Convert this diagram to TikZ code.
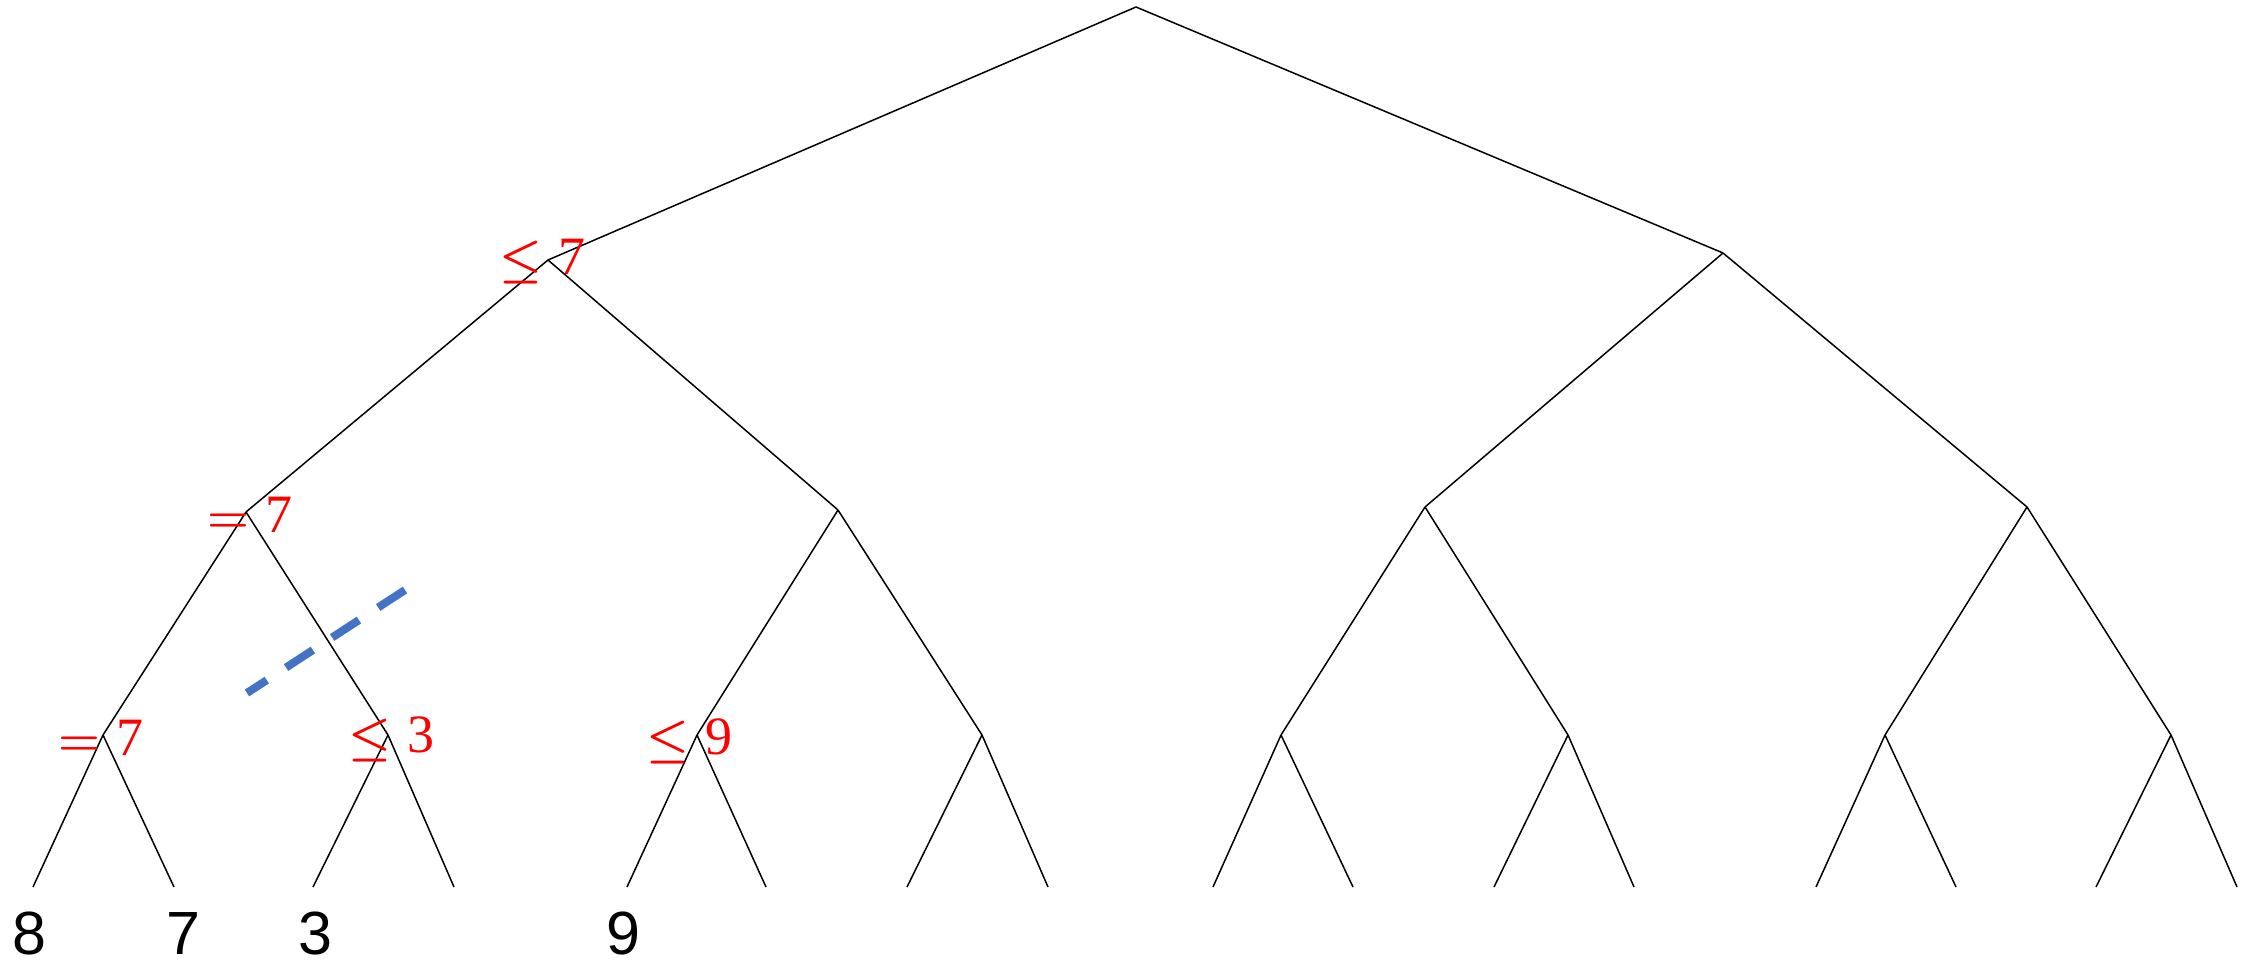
\RequirePackage{fix-cm}
\documentclass[tikz,border=0pt]{standalone}
\usepackage{fontspec}
\setmainfont{Liberation Sans}
\newfontfamily\lblserif{Liberation Serif}
\newcommand\condsym[1]{{\fontsize{48}{48}\selectfont\boldmath$#1$}}
\definecolor{cutblue}{HTML}{4472C4}
\begin{document}
\begin{tikzpicture}[x=1pt,y=-1pt,
  edge/.style={draw=black,line width=1.5pt},
  leaflbl/.style={font=\fontsize{61}{61}\selectfont,text=black,inner sep=0pt,anchor=north},
  cond/.style={font=\lblserif\fontsize{54}{54}\selectfont,text=red,inner sep=0pt,anchor=base west},
  cutline/.style={draw=cutblue,line width=8pt,dash pattern=on 32pt off 23pt}]
\useasboundingbox (0,0) rectangle (2254,965);
% tree points
\coordinate (r) at (1136,7);
\coordinate (a) at (548,260);
\coordinate (b) at (1723,253);
\coordinate (aa) at (246,512);
\coordinate (ab) at (838,510);
\coordinate (ba) at (1425,507);
\coordinate (bb) at (2027,507);
\coordinate (aaa) at (103,735);
\coordinate (aab) at (388,735);
\coordinate (aba) at (697,735);
\coordinate (abb) at (982,735);
\coordinate (baa) at (1281,735);
\coordinate (bab) at (1568,735);
\coordinate (bba) at (1885,735);
\coordinate (bbb) at (2171,735);
\foreach \n/\x in {1/33,2/174,3/313,4/454,5/627,6/766,7/907,8/1048,9/1213,10/1353,11/1494,12/1634,13/1816,14/1956,15/2096,16/2237}
  \coordinate (l\n) at (\x,887);
% edges
\draw[edge] (r)--(a) (r)--(b);
\draw[edge] (a)--(aa) (a)--(ab) (b)--(ba) (b)--(bb);
\draw[edge] (aa)--(aaa) (aa)--(aab) (ab)--(aba) (ab)--(abb)
            (ba)--(baa) (ba)--(bab) (bb)--(bba) (bb)--(bbb);
\draw[edge] (aaa)--(l1) (aaa)--(l2) (aab)--(l3) (aab)--(l4)
            (aba)--(l5) (aba)--(l6) (abb)--(l7) (abb)--(l8)
            (baa)--(l9) (baa)--(l10) (bab)--(l11) (bab)--(l12)
            (bba)--(l13) (bba)--(l14) (bbb)--(l15) (bbb)--(l16);
% leaf labels
\node[leaflbl] (t1) at ([xshift=-4pt,yshift=-25pt]l1) {8};
\node[leaflbl] (t2) at ([xshift=9pt,yshift=-25pt]l2) {7};
\node[leaflbl] (t3) at ([xshift=2pt,yshift=-25pt]l3) {3};
\node[leaflbl] (t5) at ([xshift=-4pt,yshift=-25pt]l5) {9};
% condition labels
\node[cond] (c1) at ([xshift=-49pt,yshift=-15pt]a) {\condsym{\leq}\hspace{16pt}7};
\node[cond] (c2) at ([xshift=-39pt,yshift=-20pt]aa) {\condsym{=}\hspace{16pt}7};
\node[cond] (c3) at ([xshift=-45pt,yshift=-20pt]aaa) {\condsym{=}\hspace{16pt}7};
\node[cond] (c4) at ([xshift=-40pt,yshift=-17pt]aab) {\condsym{\leq}\hspace{16pt}3};
\node[cond] (c5) at ([xshift=-51pt,yshift=-19pt]aba) {\condsym{\leq}\hspace{16pt}9};
% cut line
\coordinate (cutA) at (405,590);
\coordinate (cutB) at (247,693);
\draw[cutline] (cutA)--(cutB);
\end{tikzpicture}
\end{document}
